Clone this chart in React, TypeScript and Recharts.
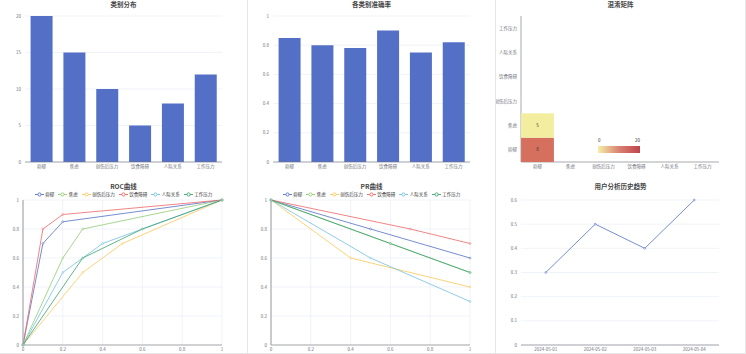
import React from 'react';
import {
  BarChart, Bar, XAxis, YAxis, CartesianGrid, LineChart, Line, ScatterChart, Scatter,
} from 'recharts';

const categories = ['抑郁', '焦虑', '创伤后压力', '饮食障碍', '人际关系', '工作压力'];
const categoryCounts = [20, 15, 10, 5, 8, 12];
const categoryAccuracy = [0.85, 0.8, 0.78, 0.9, 0.75, 0.82];
const countTicks = [0, 5, 10, 15, 20];
const rateTicks = [0, 0.2, 0.4, 0.6, 0.8, 1];

// confusion matrix: [predicted, actual, value]
const confusionCells: [string, string, number][] = [
  ['抑郁', '抑郁', 8],
  ['抑郁', '焦虑', 5],
];
const heatRange = [0, 20];

// [x, y] per category, same order as categories
const rocPoints = [
  [[0, 0], [0.1, 0.7], [0.2, 0.85], [1, 1]],
  [[0, 0], [0.2, 0.6], [0.3, 0.8], [1, 1]],
  [[0, 0], [0.3, 0.5], [0.5, 0.7], [1, 1]],
  [[0, 0], [0.1, 0.8], [0.2, 0.9], [1, 1]],
  [[0, 0], [0.2, 0.5], [0.4, 0.7], [1, 1]],
  [[0, 0], [0.3, 0.6], [0.6, 0.8], [1, 1]],
];
const prPoints = [
  [[0, 1], [0.5, 0.8], [1, 0.6]],
  [[0, 1], [0.6, 0.7], [1, 0.5]],
  [[0, 1], [0.4, 0.6], [1, 0.4]],
  [[0, 1], [0.7, 0.8], [1, 0.7]],
  [[0, 1], [0.5, 0.6], [1, 0.3]],
  [[0, 1], [0.6, 0.7], [1, 0.5]],
];

const historyDates = ['2024-05-01', '2024-05-02', '2024-05-03', '2024-05-04'];
const historyScores = [0.3, 0.5, 0.4, 0.6];
const historyTicks = [0, 0.1, 0.2, 0.3, 0.4, 0.5, 0.6];

const palette = ['#5470c6', '#91cc75', '#fac858', '#ee6666', '#73c0de', '#3ba272'];
const FONT = '"Noto Sans CJK SC", "Noto Sans", sans-serif';
const tickStyle = { fontSize: 4.5, fill: '#6E7079', fontFamily: FONT };

const barData = categories.map((name, i) => ({
  name, count: categoryCounts[i], acc: categoryAccuracy[i],
}));
const heatData = categories.flatMap((actual) =>
  categories.map((pred) => {
    const hit = confusionCells.find((c) => c[0] === pred && c[1] === actual);
    return { pred, actual, value: hit ? hit[2] : null };
  })
);
const historyData = historyDates.map((date, i) => ({ date, score: historyScores[i] }));
const toXY = (pts: number[][]) => pts.map(([x, y]) => ({ x, y }));

const mix = (a: string, b: string, t: number) => {
  const pa = [1, 3, 5].map((k) => parseInt(a.slice(k, k + 2), 16));
  const pb = [1, 3, 5].map((k) => parseInt(b.slice(k, k + 2), 16));
  return 'rgb(' + pa.map((v, i) => Math.round(v + (pb[i] - v) * t)).join(',') + ')';
};
const heatValues = confusionCells.map((c) => c[2]);
const heatColor = (v: number) => {
  const lo = Math.min(...heatValues);
  const hi = Math.max(...heatValues);
  return mix('#f3eda0', '#d5705f', hi === lo ? 1 : (v - lo) / (hi - lo));
};

const CELL_W = 197 / 6;
const CELL_H = 146 / 6;

const HeatCell = (props: any) => {
  const { cx, cy, payload } = props;
  if (payload == null || payload.value == null) return <g />;
  return (
    <g>
      <rect x={cx - CELL_W / 2} y={cy - CELL_H / 2} width={CELL_W} height={CELL_H} fill={heatColor(payload.value)} />
      <text x={cx} y={cy} dy={1.5} textAnchor="middle" fontSize={4.5} fill="#333" fontFamily={FONT}>
        {payload.value}
      </text>
    </g>
  );
};

const Title = ({ text, top }: { text: string; top: number }) => (
  <div style={{
    position: 'absolute', left: 0, right: 0, top, textAlign: 'center', fontSize: 6.5,
    fontWeight: 700, color: '#464646', fontFamily: FONT, lineHeight: '8px',
  }}>{text}</div>
);

const SeriesLegend = () => (
  <div style={{
    position: 'absolute', left: 0, right: 0, top: 13, display: 'flex', justifyContent: 'center',
    gap: 4, fontSize: 4.5, color: '#333', fontFamily: FONT, lineHeight: '6px',
  }}>
    {categories.map((c, i) => (
      <div key={c} style={{ display: 'flex', alignItems: 'center', gap: 1.5 }}>
        <svg width={9} height={5}>
          <line x1={0} y1={2.5} x2={9} y2={2.5} stroke={palette[i]} strokeWidth={0.9} />
          <circle cx={4.5} cy={2.5} r={1.6} fill="#fff" stroke={palette[i]} strokeWidth={0.9} />
        </svg>
        <span>{c}</span>
      </div>
    ))}
  </div>
);

const Panel = ({ left, top, width, height, children }: any) => (
  <div style={{
    position: 'absolute', left, top, width, height, boxSizing: 'border-box',
    borderRight: '1px solid #e6e6e6', borderBottom: '1px solid #e6e6e6', background: '#fff',
  }}>{children}</div>
);

const CurveChart = ({ series }: { series: number[][][] }) => (
  <LineChart width={248} height={176} margin={{ top: 22, right: 26, bottom: 1, left: 0 }}>
    <CartesianGrid stroke="#E0E6F1" strokeWidth={0.5} />
    <XAxis type="number" dataKey="x" domain={[0, 1]} ticks={rateTicks} height={8}
      tick={tickStyle} tickSize={0} tickMargin={3} stroke="#aaa" strokeWidth={1.2} allowDuplicatedCategory={false} />
    <YAxis type="number" dataKey="y" domain={[0, 1]} ticks={rateTicks} width={23}
      tick={tickStyle} tickSize={0} tickMargin={4} stroke="#aaa" strokeWidth={1.2} />
    {series.map((pts, i) => (
      <Line key={categories[i]} data={toXY(pts)} dataKey="y" name={categories[i]} stroke={palette[i]}
        strokeWidth={0.8} dot={{ r: 0.9, fill: '#fff', stroke: palette[i], strokeWidth: 0.6 }}
        isAnimationActive={false} />
    ))}
  </LineChart>
);

export default function App() {
  return (
    <div style={{ position: 'relative', width: 746, height: 354, background: '#fff', overflow: 'hidden' }}>
      <style>{'body{margin:0}'}</style>

      <Panel left={0} top={0} width={248} height={179}>
        <Title text="类别分布" top={0} />
        <BarChart width={248} height={178} data={barData} margin={{ top: 16, right: 26, bottom: 6, left: 0 }}
          barCategoryGap="17%">
          <CartesianGrid vertical={false} stroke="#E0E6F1" strokeWidth={0.5} />
          <XAxis dataKey="name" height={10} tick={tickStyle} tickSize={0} tickMargin={3} stroke="#6E7079" strokeWidth={0.6} />
          <YAxis domain={[0, 20]} ticks={countTicks} width={25} tick={tickStyle} tickSize={0} tickMargin={4} axisLine={false} />
          <Bar dataKey="count" fill="#5470c6" isAnimationActive={false} />
        </BarChart>
      </Panel>

      <Panel left={248} top={0} width={248} height={179}>
        <Title text="各类别准确率" top={0} />
        <BarChart width={248} height={178} data={barData} margin={{ top: 16, right: 26, bottom: 6, left: 0 }}
          barCategoryGap="17%">
          <CartesianGrid vertical={false} stroke="#E0E6F1" strokeWidth={0.5} />
          <XAxis dataKey="name" height={10} tick={tickStyle} tickSize={0} tickMargin={3} stroke="#6E7079" strokeWidth={0.6} />
          <YAxis domain={[0, 1]} ticks={rateTicks} width={25} tick={tickStyle} tickSize={0} tickMargin={4} axisLine={false} />
          <Bar dataKey="acc" fill="#5470c6" isAnimationActive={false} />
        </BarChart>
      </Panel>

      <Panel left={496} top={0} width={250} height={179}>
        <Title text="混淆矩阵" top={0} />
        <ScatterChart width={248} height={178} margin={{ top: 16, right: 25, bottom: 6, left: 0 }}>
          <XAxis type="category" dataKey="pred" allowDuplicatedCategory={false} height={10} tick={tickStyle}
            tickSize={0} tickMargin={3} stroke="#6E7079" strokeWidth={0.6} />
          <YAxis type="category" dataKey="actual" allowDuplicatedCategory={false} width={25} tick={tickStyle}
            tickSize={0} tickMargin={4} stroke="#6E7079" strokeWidth={0.6} />
          <Scatter data={heatData} shape={<HeatCell />} isAnimationActive={false} />
        </ScatterChart>
        <div style={{ position: 'absolute', left: 100, top: 137, width: 46, fontSize: 4.5, color: '#333', fontFamily: FONT }}>
          <span style={{ position: 'absolute', left: 2 }}>{heatRange[0]}</span>
          <span style={{ position: 'absolute', right: 2 }}>{heatRange[1]}</span>
        </div>
        <div style={{
          position: 'absolute', left: 102, top: 146, width: 42, height: 7,
          background: 'linear-gradient(to right, #f6efa6, #d88273, #bf444c)',
        }} />
      </Panel>

      <Panel left={0} top={178} width={248} height={176}>
        <Title text="ROC曲线" top={4} />
        <SeriesLegend />
        <CurveChart series={rocPoints} />
      </Panel>

      <Panel left={248} top={178} width={248} height={176}>
        <Title text="PR曲线" top={4} />
        <SeriesLegend />
        <CurveChart series={prPoints} />
      </Panel>

      <Panel left={496} top={178} width={250} height={176}>
        <Title text="用户分析历史趋势" top={4} />
        <LineChart width={248} height={176} data={historyData} margin={{ top: 22, right: 25, bottom: 1, left: 0 }}>
          <CartesianGrid vertical={false} stroke="#E0E6F1" strokeWidth={0.5} />
          <XAxis dataKey="date" scale="band" height={8} tick={tickStyle} tickSize={0} tickMargin={3} stroke="#6E7079" strokeWidth={0.6} />
          <YAxis domain={[0, 0.6]} ticks={historyTicks} width={25} tick={tickStyle} tickSize={0} tickMargin={4} axisLine={false} />
          <Line dataKey="score" stroke="#5470c6" strokeWidth={0.8}
            dot={{ r: 0.9, fill: '#fff', stroke: '#5470c6', strokeWidth: 0.6 }} isAnimationActive={false} />
        </LineChart>
      </Panel>
    </div>
  );
}
